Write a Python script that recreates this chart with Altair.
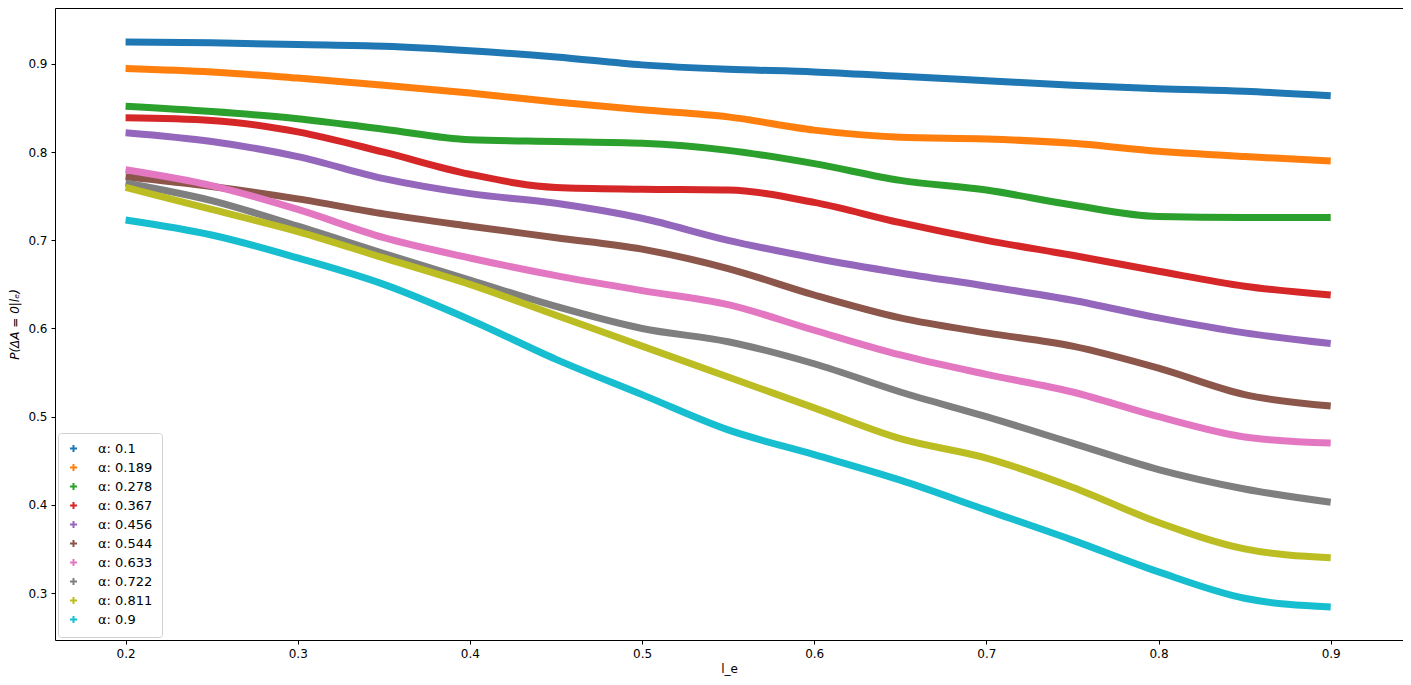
import altair as alt
import pandas as pd

l_e = [0.2, 0.25, 0.3, 0.35, 0.4, 0.45, 0.5, 0.55, 0.6, 0.65, 0.7, 0.75, 0.8, 0.85, 0.9]

alphas = ["0.1", "0.189", "0.278", "0.367", "0.456", "0.544", "0.633", "0.722", "0.811", "0.9"]

s_01 = [0.925, 0.924, 0.922, 0.920, 0.915, 0.908, 0.899, 0.894, 0.891, 0.886, 0.881, 0.876, 0.872, 0.869, 0.864]
s_0189 = [0.895, 0.891, 0.884, 0.876, 0.867, 0.857, 0.848, 0.840, 0.825, 0.817, 0.815, 0.810, 0.801, 0.795, 0.790]
s_0278 = [0.852, 0.846, 0.838, 0.826, 0.814, 0.812, 0.810, 0.802, 0.787, 0.768, 0.757, 0.740, 0.727, 0.726, 0.726]
s_0367 = [0.839, 0.836, 0.823, 0.800, 0.775, 0.760, 0.758, 0.757, 0.743, 0.720, 0.700, 0.683, 0.665, 0.648, 0.638]
s_0456 = [0.822, 0.812, 0.795, 0.770, 0.753, 0.742, 0.725, 0.700, 0.680, 0.663, 0.648, 0.632, 0.612, 0.595, 0.583]
s_0544 = [0.772, 0.761, 0.747, 0.730, 0.716, 0.703, 0.690, 0.668, 0.638, 0.612, 0.595, 0.580, 0.555, 0.525, 0.512]
s_0633 = [0.780, 0.762, 0.735, 0.703, 0.680, 0.660, 0.643, 0.627, 0.598, 0.570, 0.548, 0.528, 0.500, 0.477, 0.470]
s_0722 = [0.765, 0.745, 0.716, 0.685, 0.655, 0.625, 0.600, 0.585, 0.560, 0.528, 0.500, 0.470, 0.440, 0.418, 0.403]
s_0811 = [0.760, 0.735, 0.710, 0.680, 0.650, 0.615, 0.580, 0.545, 0.510, 0.475, 0.453, 0.420, 0.380, 0.350, 0.340]
s_09 = [0.723, 0.706, 0.680, 0.650, 0.610, 0.565, 0.525, 0.485, 0.457, 0.428, 0.394, 0.360, 0.324, 0.294, 0.284]

series = [s_01, s_0189, s_0278, s_0367, s_0456, s_0544, s_0633, s_0722, s_0811, s_09]
colors = ["#1f77b4", "#ff7f0e", "#2ca02c", "#d62728", "#9467bd",
          "#8c564b", "#e377c2", "#7f7f7f", "#bcbd22", "#17becf"]

rows = []
for i, (a, vals) in enumerate(zip(alphas, series)):
    label = "\u03b1: " + a
    for x, y in zip(l_e, vals):
        rows.append({"l_e": x, "p": y, "alpha": label, "order": i})
df = pd.DataFrame(rows)
labels = ["\u03b1: " + a for a in alphas]

xenc = alt.X("l_e:Q", title="l_e",
             scale=alt.Scale(domain=[0.159, 0.942], nice=False, zero=False),
             axis=alt.Axis(values=[0.2, 0.3, 0.4, 0.5, 0.6, 0.7, 0.8, 0.9], format=".1f"))
yenc = alt.Y("p:Q", title="P(\u0394A = 0|l\u2091)",
             scale=alt.Scale(domain=[0.2467, 0.9635], nice=False, zero=False),
             axis=alt.Axis(values=[0.3, 0.4, 0.5, 0.6, 0.7, 0.8, 0.9], format=".1f",
                           titleFontStyle="italic"))
cenc = alt.Color("alpha:N", sort=labels,
                 scale=alt.Scale(domain=labels, range=colors),
                 legend=alt.Legend(title=None, orient="bottom-left",
                                   symbolType="M-1,0L1,0M0,-1L0,1",
                                   symbolSize=50, symbolStrokeWidth=2,
                                   labelFontSize=13, labelFont="DejaVu Sans",
                                   rowPadding=2, padding=9, offset=3,
                                   strokeColor="#d0d0d0", cornerRadius=3,
                                   fillColor="white", labelOffset=18))

lines = alt.Chart(df).mark_line(strokeWidth=7, interpolate="monotone").encode(
    x=xenc, y=yenc, color=cenc, detail="alpha:N", order="l_e:Q")

chart = lines.properties(
    width=1348, height=632,
    padding={"left": 47, "top": 0, "right": 0, "bottom": 37},
    autosize=alt.AutoSizeParams(type="none"),
).configure_view(stroke="black", strokeWidth=1).configure_axis(
    grid=False, domain=False, tickColor="black", tickSize=4,
    labelFont="DejaVu Sans", labelFontSize=12, labelColor="black",
    titleFont="DejaVu Sans", titleFontSize=12, titleFontWeight="normal", titleColor="black",
    labelPadding=4,
).configure_axisX(titlePadding=4).configure_axisY(titlePadding=6)

chart.save("out.html", embed_options={"renderer": "svg", "actions": False})
